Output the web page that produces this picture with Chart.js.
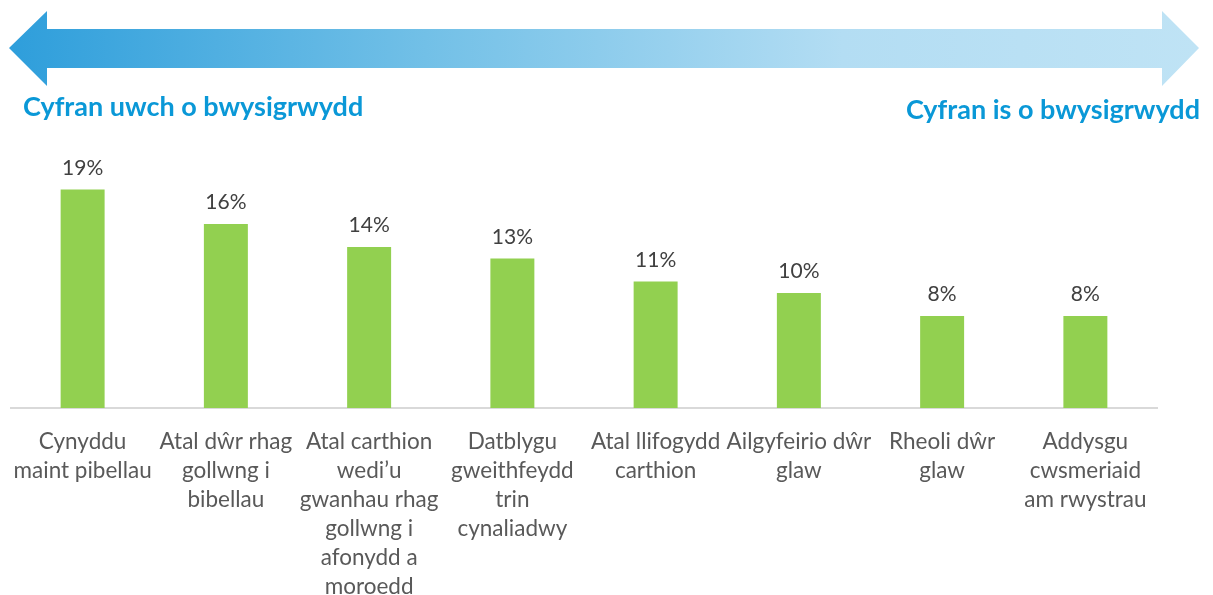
<!DOCTYPE html>
<html>
<head>
<meta charset="utf-8">
<script src="https://cdn.jsdelivr.net/npm/chart.js@4.4.1/dist/chart.umd.min.js"></script>
<style>
  html, body { margin: 0; padding: 0; background: #fff; }
  #wrap { width: 1213px; height: 595px; position: relative; }
</style>
</head>
<body>
<div id="wrap"><canvas id="chart"></canvas></div>
<script>
const categories = [
  ["Cynyddu", "maint pibellau"],
  ["Atal dŵr rhag", "gollwng i", "bibellau"],
  ["Atal carthion", "wedi’u", "gwanhau rhag", "gollwng i", "afonydd a", "moroedd"],
  ["Datblygu", "gweithfeydd", "trin", "cynaliadwy"],
  ["Atal llifogydd", "carthion"],
  ["Ailgyfeirio dŵr", "glaw"],
  ["Rheoli dŵr", "glaw"],
  ["Addysgu", "cwsmeriaid", "am rwystrau"]
];
const shares = [19, 16, 14, 13, 11, 10, 8, 8];
const leftHeading = "Cyfran uwch o bwysigrwydd";
const rightHeading = "Cyfran is o bwysigrwydd";

const fontFamily = "Lato, 'Open Sans', sans-serif";

// arrow + headings above the plot
const arrowPlugin = {
  id: "arrowPlugin",
  beforeDraw(chart) {
    const ctx = chart.ctx;
    ctx.save();
    const grad = ctx.createLinearGradient(9, 0, 1199, 0);
    grad.addColorStop(0, "#2e9edb");
    grad.addColorStop(0.35, "#72c0e7");
    grad.addColorStop(0.7, "#b3ddf3");
    grad.addColorStop(1, "#bfe3f5");
    ctx.fillStyle = grad;
    ctx.beginPath();
    ctx.moveTo(9, 48);
    ctx.lineTo(47, 11);
    ctx.lineTo(47, 29);
    ctx.lineTo(1162, 29);
    ctx.lineTo(1162, 11);
    ctx.lineTo(1199, 48);
    ctx.lineTo(1162, 86);
    ctx.lineTo(1162, 68);
    ctx.lineTo(47, 68);
    ctx.lineTo(47, 86);
    ctx.closePath();
    ctx.fill();

    ctx.fillStyle = "#0a98d7";
    ctx.font = "bold 27px " + fontFamily;
    ctx.textBaseline = "alphabetic";
    ctx.textAlign = "left";
    ctx.fillText(leftHeading, 23, 116);
    ctx.textAlign = "right";
    ctx.fillText(rightHeading, 1200, 119);
    ctx.restore();
  }
};

// value labels over the bars
const valueLabels = {
  id: "valueLabels",
  afterDatasetsDraw(chart) {
    const ctx = chart.ctx;
    const meta = chart.getDatasetMeta(0);
    ctx.save();
    ctx.fillStyle = "#404040";
    ctx.font = "21px " + fontFamily;
    ctx.textAlign = "center";
    ctx.textBaseline = "alphabetic";
    meta.data.forEach((bar, i) => {
      ctx.fillText(shares[i] + "%", bar.x, bar.y - 15);
    });
    ctx.restore();
  }
};

const ctx = document.getElementById("chart").getContext("2d");
new Chart(ctx, {
  type: "bar",
  data: {
    labels: categories,
    datasets: [{
      data: shares,
      backgroundColor: "#92d050",
      barPercentage: 0.307,
      categoryPercentage: 1
    }]
  },
  options: {
    responsive: true,
    maintainAspectRatio: false,
    animation: false,
    layout: { padding: { top: 178, left: 11, right: 56, bottom: 0 } },
    plugins: {
      legend: { display: false },
      tooltip: { enabled: false }
    },
    scales: {
      y: {
        display: false,
        min: 0,
        max: 20
      },
      x: {
        afterFit(scale) {
          scale.height = 187;
          // labels may overhang the plot edges, like the original
          scale.paddingLeft = 0;
          scale.paddingRight = 0;
        },
        grid: { display: false, drawTicks: false },
        border: { display: true, color: "#d9d9d9", width: 2 },
        ticks: {
          autoSkip: false,
          maxRotation: 0,
          minRotation: 0,
          padding: 19,
          color: "#595959",
          font: { family: fontFamily, size: 22.5, lineHeight: "29px" }
        }
      }
    }
  },
  plugins: [arrowPlugin, valueLabels]
});
</script>
</body>
</html>
